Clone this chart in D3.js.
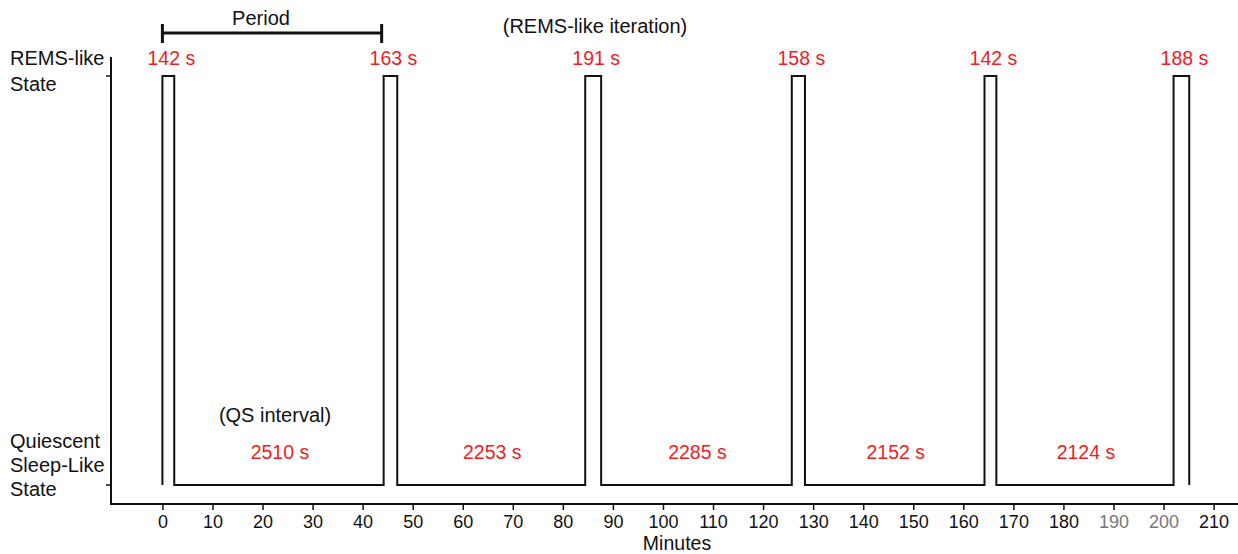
<!DOCTYPE html>
<html>
<head>
<meta charset="utf-8">
<script src="https://cdn.jsdelivr.net/npm/d3@7"></script>
<style>
  body { margin: 0; background: #fff; }
  svg text { font-family: "Liberation Sans", Arial, sans-serif; }
</style>
</head>
<body>
<div id="chart"></div>
<script>
// REMS-like bout durations (s) and QS interval durations (s)
const remsDurations = [142, 163, 191, 158, 142, 188];
const qsDurations = [2510, 2253, 2285, 2152, 2124];
const xTicks = [0, 10, 20, 30, 40, 50, 60, 70, 80, 90, 100, 110, 120, 130, 140, 150, 160, 170, 180, 190, 200, 210];
const greyTicks = [190, 200];
const stateLabels = [["REMS-like", "State"], ["Quiescent", "Sleep-Like", "State"]];

const width = 1238, height = 554;
const svg = d3.select("#chart").append("svg")
  .attr("width", width)
  .attr("height", height);

const x = d3.scaleLinear().domain([0, 210]).range([162.4, 1213.6]);
const y = d3.scaleOrdinal().domain(["QS", "REMS"]).range([485, 76]);

// build bouts in minutes from the durations
const bouts = [];
let t = 0;
remsDurations.forEach((r, i) => {
  bouts.push({ state: "REMS", start: t / 60, end: (t + r) / 60, dur: r });
  t += r;
  if (i < qsDurations.length) {
    bouts.push({ state: "QS", start: t / 60, end: (t + qsDurations[i]) / 60, dur: qsDurations[i] });
    t += qsDurations[i];
  }
});

// step trace
const pts = [[0, "QS"]];
bouts.forEach(b => {
  pts.push([b.start, b.state]);
  pts.push([b.end, b.state]);
});
pts.push([bouts[bouts.length - 1].end, "QS"]);

const line = d3.line()
  .x(d => x(d[0]))
  .y(d => y(d[1]));

svg.append("path")
  .datum(pts)
  .attr("d", line)
  .attr("fill", "none")
  .attr("stroke", "#111")
  .attr("stroke-width", 2);

// axes
const axisY = 504;
const xAxis = svg.append("g")
  .attr("transform", `translate(0,${axisY})`)
  .call(d3.axisBottom(x).tickValues(xTicks).tickSize(6).tickPadding(5));
xAxis.select(".domain").remove();
xAxis.append("line")
  .attr("x1", 111).attr("x2", width)
  .attr("stroke", "#111").attr("stroke-width", 2);
xAxis.selectAll(".tick line").attr("stroke", "#111").attr("stroke-width", 1.5);
xAxis.selectAll(".tick text")
  .attr("font-size", 18)
  .attr("fill", d => greyTicks.includes(d) ? "#777" : "#111")
  .style("font-family", "'Liberation Sans', Arial, sans-serif");

svg.append("line")
  .attr("x1", 111).attr("x2", 111)
  .attr("y1", 57).attr("y2", axisY + 1)
  .attr("stroke", "#111").attr("stroke-width", 2);

["REMS", "QS"].forEach(s => {
  svg.append("line")
    .attr("x1", 106).attr("x2", 111)
    .attr("y1", y(s)).attr("y2", y(s))
    .attr("stroke", "#111").attr("stroke-width", 1.5);
});

svg.append("text")
  .attr("x", 677).attr("y", 550)
  .attr("text-anchor", "middle")
  .attr("font-size", 19.5)
  .attr("fill", "#111")
  .text("Minutes");

// state labels
stateLabels[0].forEach((s, i) => {
  svg.append("text").attr("x", 10).attr("y", 65 + i * 26)
    .attr("font-size", 20).attr("fill", "#111").text(s);
});
stateLabels[1].forEach((s, i) => {
  svg.append("text").attr("x", 10).attr("y", 448 + i * 24)
    .attr("font-size", 20).attr("fill", "#111").text(s);
});

// duration labels
svg.selectAll(".rems-label")
  .data(bouts.filter(b => b.state === "REMS"))
  .join("text")
  .attr("class", "rems-label")
  .attr("x", d => x((d.start + d.end) / 2) + 3)
  .attr("y", 65)
  .attr("text-anchor", "middle")
  .attr("font-size", 19.5)
  .attr("fill", "#ee1c25")
  .text(d => d.dur + " s");

svg.selectAll(".qs-label")
  .data(bouts.filter(b => b.state === "QS"))
  .join("text")
  .attr("class", "qs-label")
  .attr("x", d => x((d.start + d.end) / 2) + 1)
  .attr("y", 459)
  .attr("text-anchor", "middle")
  .attr("font-size", 19.5)
  .attr("fill", "#ee1c25")
  .text(d => d.dur + " s");

// period bracket
const p0 = x(bouts[0].start), p1 = x(bouts[2].start) - 2;
const br = svg.append("g").attr("stroke", "#111").attr("stroke-width", 3);
br.append("line").attr("x1", p0).attr("x2", p1).attr("y1", 33).attr("y2", 33);
br.append("line").attr("x1", p0).attr("x2", p0).attr("y1", 24).attr("y2", 43);
br.append("line").attr("x1", p1).attr("x2", p1).attr("y1", 24).attr("y2", 43);

svg.append("text")
  .attr("x", 261).attr("y", 25)
  .attr("text-anchor", "middle")
  .attr("font-size", 20).attr("fill", "#111")
  .text("Period");

svg.append("text")
  .attr("x", 595).attr("y", 33)
  .attr("text-anchor", "middle")
  .attr("font-size", 20).attr("fill", "#111")
  .text("(REMS-like iteration)");

svg.append("text")
  .attr("x", 275).attr("y", 422)
  .attr("text-anchor", "middle")
  .attr("font-size", 20).attr("fill", "#111")
  .text("(QS interval)");
</script>
</body>
</html>
